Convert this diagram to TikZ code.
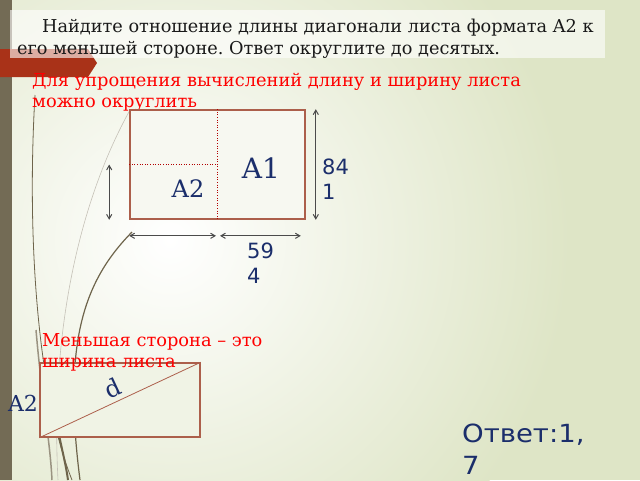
\documentclass[tikz,border=0pt]{standalone}
\usepackage{fontspec}
\setmainfont{DejaVu Serif}
\setsansfont{DejaVu Sans}
\newfontfamily\answerfont{DejaVu Sans}[FakeStretch=1.1]
\usetikzlibrary{arrows}
\usetikzlibrary{positioning}
\definecolor{bgouter}{RGB}{222,229,198}
\definecolor{barolive}{RGB}{115,107,85}
\definecolor{bandred}{RGB}{169,50,24}
\definecolor{sheetline}{RGB}{172,95,75}
\definecolor{navy}{RGB}{27,46,107}
\definecolor{arrowgray}{RGB}{75,75,75}
\definecolor{wisp}{RGB}{110,100,75}
\frenchspacing

\begin{document}
\begin{tikzpicture}[x=1pt,y=-1pt,
  sheet/.style={rectangle,draw=sheetline,line width=1.6pt,inner sep=0pt},
  fold/.style={draw=red!70!black,dotted,line width=0.6pt},
  dim/.style={<->,>=angle 60,draw=arrowgray,line width=1pt},
  note/.style={text=red,align=left,inner sep=0pt,anchor=north west,font=\fontsize{17.8}{21}\selectfont},
  dimtext/.style={text=navy,align=left,inner sep=0pt,anchor=north west,font=\sffamily\fontsize{21}{25}\selectfont},
  format/.style={text=navy,inner sep=0pt}]
\useasboundingbox (0,0) rectangle (640,480);

% slide background
\fill [bgouter] (0,0) rectangle (640,480);
\begin{scope}
\clip (0,0) rectangle (640,480);
\shade [inner color=white,outer color=bgouter] (170,240) circle (400);
\end{scope}
\draw [wisp,line width=0.8pt] (35,95) .. controls (26,250) and (40,400) .. (72,480);
\draw [wisp!40,line width=0.6pt] (130,110) .. controls (80,200) and (50,330) .. (58,480);
\draw [wisp,line width=1.2pt] (132,232) .. controls (85,280) and (62,340) .. (80,480);
\draw [wisp!70,line width=1.5pt] (36,330) .. controls (42,400) and (50,440) .. (52,480);
\draw [wisp,line width=2pt] (58,430) .. controls (62,450) and (66,465) .. (68,480);
\fill [barolive] (0,0) rectangle (12,480);
\fill [bandred] (0,49) -- (88,49) -- (97,63) -- (88,77) -- (0,77) -- cycle;
\fill [white,opacity=0.6] (10,10) rectangle (605,58);

\node [anchor=north west,inner sep=0pt,align=left,text=black!90,font=\fontsize{17.7}{22}\selectfont] (task) at (17,19) {\hspace*{25pt}Найдите отношение длины диагонали листа формата A2 к\\его меньшей стороне. Ответ округлите до десятых.};
\node [note] (hint) at (32,73) {Для упрощения вычислений длину и ширину листа\\можно округлить};

% A1 sheet folded into two A2
\node [sheet,fill=white!75!bgouter,minimum width=175pt,minimum height=109pt] (a1sheet) at (217.5,164.5) {};
\draw [fold] (a1sheet.north) -- (a1sheet.south);
\draw [fold] (a1sheet.west) -- (a1sheet.center);
\node [format,font=\fontsize{28}{28}\selectfont] (a1label) at (261,168) {A1};
\node [format,font=\fontsize{24}{24}\selectfont] (a2label) at (188,189) {A2};

\coordinate [right=10pt of a1sheet.north east] (longtop);
\coordinate [right=10pt of a1sheet.south east] (longbot);
\coordinate [left=20pt of a1sheet.west] (shorttop);
\coordinate [left=20pt of a1sheet.south west] (shortbot);
\coordinate [below=16pt of a1sheet.south west] (wideleft);
\coordinate [below left=16pt and 1.5pt of a1sheet.south] (halfleft);
\coordinate [below right=16pt and 2.5pt of a1sheet.south] (halfright);
\coordinate [below left=16pt and 5pt of a1sheet.south east] (wideright);
\draw [dim] (longtop) -- (longbot);
\draw [dim] (shorttop) -- (shortbot);
\draw [dim] (wideleft) -- (halfleft);
\draw [dim] (halfright) -- (wideright);
\node [dimtext] (longval) at (322,159) {84\\1};
\node [dimtext] (wideval) at (247,243) {59\\4};

% A2 sheet with its diagonal
\node [sheet,fill=bgouter!45!white,minimum width=160pt,minimum height=74pt] (a2sheet) at (120,400) {};
\draw [sheetline,line width=0.8pt] (a2sheet.south west) -- (a2sheet.north east);
\node [note] (smallside) at (42,333) {Меньшая сторона – это\\ширина листа};
\node [format,rotate=25,font=\fontsize{24}{24}\selectfont] (diag) at (113,388) {d};
\node [format,font=\fontsize{22}{22}\selectfont] (a2side) at (23,403) {A2};

\node [text=navy,anchor=north west,align=left,inner sep=0pt,font=\answerfont\fontsize{25}{32}\selectfont] (answer) at (462,424) {Ответ:1,\\7};
\end{tikzpicture}
\end{document}
